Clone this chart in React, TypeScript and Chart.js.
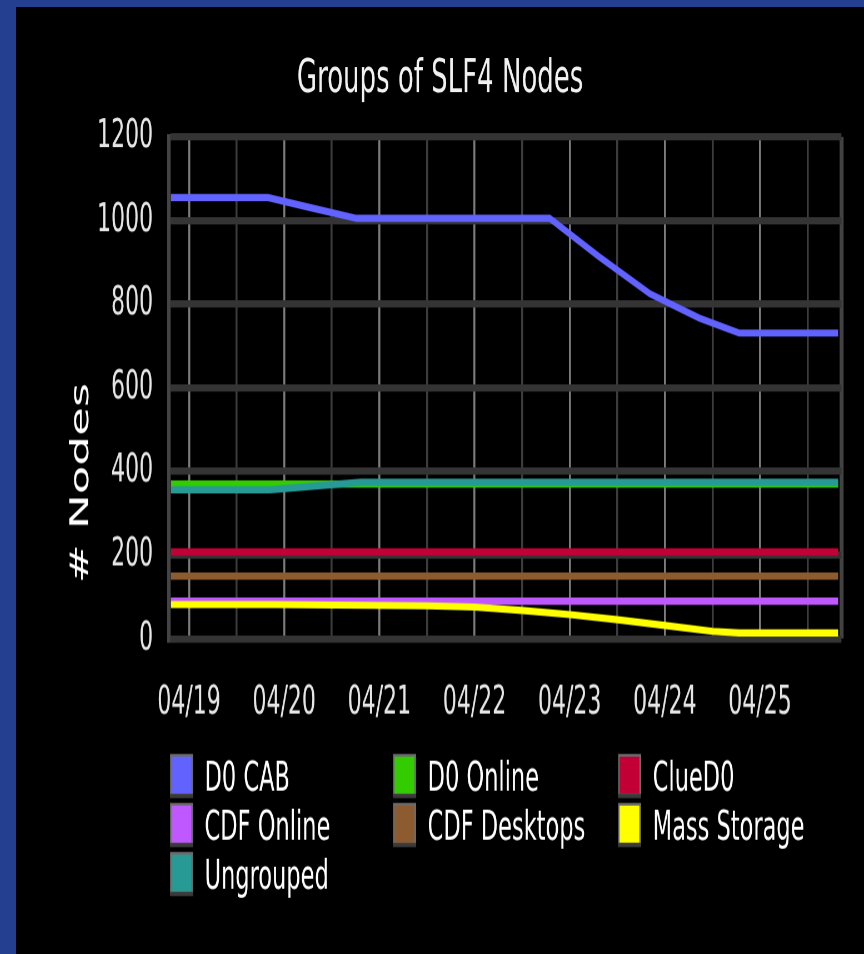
import React, { useEffect, useRef } from 'react';
import { Chart, registerables } from 'chart.js';

Chart.register(...registerables);

const FONT = '"DejaVu Sans", "Liberation Sans", sans-serif';
const STRETCH_Y = 1.8;
const CANVAS_W = 848;
const CANVAS_H = 526;

const chartTitle = 'Groups of SLF4 Nodes';
const yAxisTitle = '# Nodes';
const dayLabels = ['04/19', '04/20', '04/21', '04/22', '04/23', '04/24', '04/25'];
const yTickValues = [0, 100, 200, 300, 400, 500, 600, 700, 800, 900, 1000, 1100, 1200];
const xRange = [-0.21, 6.855];

const seriesNames = ['D0 CAB', 'D0 Online', 'ClueD0', 'CDF Online', 'CDF Desktops', 'Mass Storage', 'Ungrouped'];
const seriesColors = ['#6262ff', '#33cc00', '#c20036', '#c058ff', '#8c5c30', '#ffff00', '#279a96'];

// days since 04/19 00:00
const d0CabDays = [-0.19, 0.83, 1.27, 1.76, 3.79, 4.31, 4.84, 5.36, 5.78, 6.82];
const d0CabNodes = [1055, 1055, 1031, 1005, 1005, 913, 825, 767, 731, 731];
const d0OnlineDays = [-0.19, 6.82];
const d0OnlineNodes = [370, 370];
const clueD0Days = [-0.19, 6.82];
const clueD0Nodes = [208, 208];
const cdfOnlineDays = [-0.19, 6.82];
const cdfOnlineNodes = [90, 90];
const cdfDesktopsDays = [-0.19, 6.82];
const cdfDesktopsNodes = [150, 150];
const massStorageDays = [-0.19, 0.9, 2.5, 3.0, 3.5, 4.0, 4.5, 5.0, 5.5, 5.78, 6.82];
const massStorageNodes = [82, 82, 79, 76, 68, 58, 46, 32, 18, 14, 14];
const ungroupedDays = [-0.19, 0.85, 1.8, 6.82];
const ungroupedNodes = [356, 356, 374, 374];

const seriesDays = [d0CabDays, d0OnlineDays, clueD0Days, cdfOnlineDays, cdfDesktopsDays, massStorageDays, ungroupedDays];
const seriesNodes = [d0CabNodes, d0OnlineNodes, clueD0Nodes, cdfOnlineNodes, cdfDesktopsNodes, massStorageNodes, ungroupedNodes];

const xTickValues: number[] = [];
for (let i = 0; i < dayLabels.length; i++) {
  xTickValues.push(i, i + 0.5);
}
xTickValues.push(xRange[1]);

const overlayPlugin = {
  id: 'overlayText',
  afterDraw(chart: any) {
    const ctx = chart.ctx as CanvasRenderingContext2D;
    ctx.save();
    // title
    ctx.fillStyle = '#f2f2f2';
    ctx.font = `26px ${FONT}`;
    ctx.textAlign = 'center';
    ctx.textBaseline = 'middle';
    ctx.fillText(chartTitle, CANVAS_W / 2, 40.2);
    // y axis title
    ctx.save();
    ctx.translate(65.2, 264.2);
    ctx.rotate(-Math.PI / 2);
    ctx.fillStyle = '#ffffff';
    ctx.fillText(yAxisTitle, 0, 0);
    ctx.restore();
    // legend grid
    const colX = [154, 377, 602];
    const boxW = 23;
    const boxH = 24.4;
    ctx.font = `22.5px ${FONT}`;
    ctx.textAlign = 'left';
    ctx.textBaseline = 'alphabetic';
    seriesNames.forEach((name, i) => {
      const col = i % 3;
      const row = Math.floor(i / 3);
      const bx = colX[col];
      const by = 414.6 + row * 27.2;
      ctx.fillStyle = '#6c6c6c';
      ctx.fillRect(bx, by, boxW, boxH);
      ctx.fillStyle = '#3a3a3a';
      ctx.fillRect(bx, by + boxH - 2.2, boxW, 2.2);
      ctx.fillStyle = seriesColors[i];
      ctx.fillRect(bx + 1.4, by + 1.5, boxW - 3.2, boxH - 1.5 - 2.4);
      ctx.fillStyle = '#ffffff';
      ctx.fillText(name, bx + 34.5, by + boxH / 2 + 8.2);
    });
    ctx.restore();
  },
};

export default function App() {
  const canvasRef = useRef<HTMLCanvasElement | null>(null);

  useEffect(() => {
    if (!canvasRef.current) return;
    const lastX = xTickValues.length - 1;
    const chart = new Chart(canvasRef.current, {
      type: 'line',
      data: {
        datasets: seriesNames.map((name, i) => ({
          label: name,
          data: seriesDays[i].map((d, j) => ({ x: d, y: seriesNodes[i][j] })),
          borderColor: seriesColors[i],
          backgroundColor: seriesColors[i],
          borderWidth: 4,
          pointRadius: 0,
          tension: 0,
          fill: false,
          order: seriesNames.length - i,
        })),
      },
      options: {
        responsive: false,
        animation: false,
        devicePixelRatio: STRETCH_Y,
        events: [],
        layout: { padding: { top: 72.06, left: 0, right: 21.3, bottom: 0 } },
        plugins: {
          legend: { display: false },
          title: { display: false },
          tooltip: { enabled: false },
        },
        scales: {
          x: {
            type: 'linear',
            min: xRange[0],
            max: xRange[1],
            afterBuildTicks: (scale: any) => {
              scale.ticks = xTickValues.map((v) => ({ value: v }));
            },
            afterFit: (scale: any) => {
              scale.height = CANVAS_H - 350.7;
            },
            ticks: {
              autoSkip: false,
              maxRotation: 0,
              padding: 22.8,
              color: '#e6e6e6',
              font: { family: FONT, size: 22 },
              callback: (value: any) => {
                const v = Number(value);
                return Number.isInteger(v) && v >= 0 && v < dayLabels.length ? dayLabels[v] : '';
              },
            },
            grid: {
              drawTicks: false,
              color: (c: any) => {
                if (c.index === lastX) return '#424242';
                const v = c.tick ? c.tick.value : 0;
                return Number.isInteger(v) ? '#7c7c7c' : '#3c3c3c';
              },
              lineWidth: (c: any) => (c.index === lastX ? 4 : 2),
            },
            border: { display: false },
          },
          y: {
            type: 'linear',
            min: 0,
            max: 1200,
            afterBuildTicks: (scale: any) => {
              scale.ticks = yTickValues.map((v) => ({ value: v }));
            },
            afterFit: (scale: any) => {
              scale.width = 153;
            },
            ticks: {
              padding: 16,
              color: '#e6e6e6',
              font: { family: FONT, size: 22 },
              callback: (value: any) => (Number(value) % 200 === 0 ? String(value) : ''),
            },
            grid: {
              drawTicks: false,
              color: (c: any) => (c.tick && c.tick.value % 200 === 0 ? '#343434' : '#1c1c1c'),
              lineWidth: 4,
            },
            border: { display: true, color: '#444444', width: 3.5 },
          },
        },
      },
      plugins: [overlayPlugin],
    });
    return () => chart.destroy();
  }, []);

  return (
    <div
      style={{
        position: 'fixed',
        left: 0,
        top: 0,
        width: 864,
        height: 954,
        background: '#243f8f',
        overflow: 'hidden',
      }}
    >
      <div
        style={{
          position: 'absolute',
          left: 16,
          top: 7,
          width: 848,
          height: 947,
          background: '#000000',
          overflow: 'hidden',
        }}
      >
        <canvas
          ref={canvasRef}
          width={CANVAS_W}
          height={CANVAS_H}
          style={{ transform: `scaleY(${STRETCH_Y})`, transformOrigin: '0 0' }}
        />
      </div>
    </div>
  );
}
